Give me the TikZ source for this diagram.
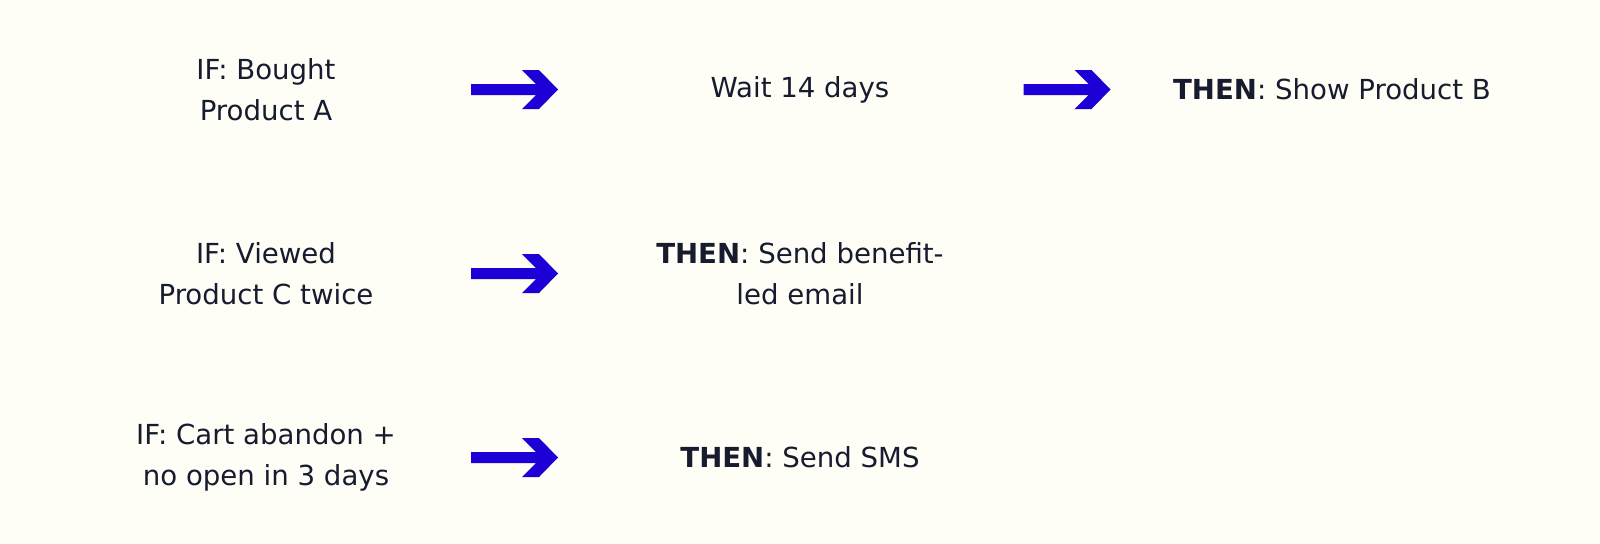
\documentclass[tikz,border=0pt]{standalone}
\usepackage{fontspec}
\setmainfont{DejaVu Sans}
\usetikzlibrary{positioning}

\definecolor{bgcream}{HTML}{FEFDF6}
\definecolor{inkdark}{HTML}{161B2E}
\definecolor{arrowblue}{HTML}{1D00D6}

\tikzset{
  blockarrow/.pic={
    \fill[arrowblue] (-43.5,-5.5) -- (21.5,-5.5) -- (7.5,-19.5) -- (24.5,-19.5)
      -- (43.5,0) -- (24.5,19.5) -- (7.5,19.5) -- (21.5,5.5) -- (-43.5,5.5) -- cycle;
  }
}

\begin{document}
\begin{tikzpicture}[x=0.5pt,y=-0.5pt,on grid,
    every node/.style={text=inkdark,align=center,inner sep=0pt,
      font=\fontsize{13.8pt}{20.5pt}\selectfont}]
  \fill[bgcream] (0,0) rectangle (1600,543);
  \useasboundingbox (0,0) rectangle (1600,543);
  % Conditions
  \node (ifA) at (266,89.5) {IF: Bought\\Product A};
  \node (ifC) [below=92pt of ifA, anchor=center] {IF: Viewed\\Product C twice};
  \node (ifCart) [below=92pt of ifC, anchor=center] {IF: Cart abandon +\\no open in 3 days};
  % Arrow anchors
  \coordinate[right=124.25pt of ifA] (arrA);
  \coordinate[right=124.25pt of ifC] (arrC);
  \coordinate[right=124.25pt of ifCart] (arrCart);
  % Actions
  \node (wait) [right=142.75pt of arrA, anchor=center] {Wait 14 days};
  \coordinate[right=133.5pt of wait] (arrWait);
  \node (showB) [right=132.5pt of arrWait, anchor=center] {\textbf{THEN}: Show Product B};
  \node (email) [right=142.75pt of arrC, anchor=center] {\textbf{THEN}: Send benefit-\\led email};
  \node (sms) [right=142.75pt of arrCart, anchor=center] {\textbf{THEN}: Send SMS};
  % Arrows
  \foreach \a in {arrA,arrWait,arrC,arrCart}
    \pic at (\a) {blockarrow};
\end{tikzpicture}
\end{document}
